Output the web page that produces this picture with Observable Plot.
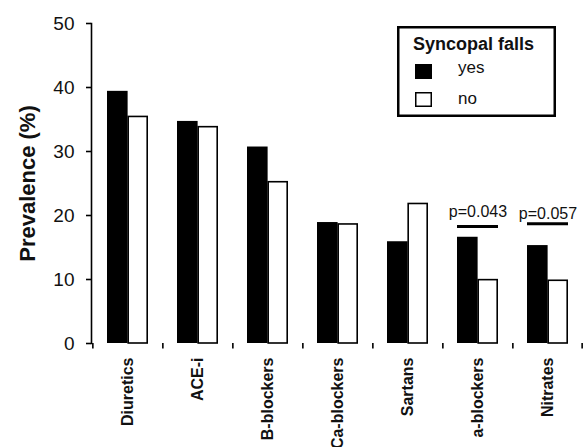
<!DOCTYPE html>
<html><head><meta charset="utf-8">
<script src="https://cdn.jsdelivr.net/npm/d3@7"></script>
<script src="https://cdn.jsdelivr.net/npm/@observablehq/plot@0.6"></script>
<style>
body{margin:0;background:#fff;font-family:"Liberation Sans",Arial,sans-serif;}
#wrap{position:relative;width:583px;height:447px;overflow:hidden;}
#legend{position:absolute;left:397px;top:26px;}
</style></head>
<body><div id="wrap"></div>
<script>
const categories = ["Diuretics","ACE-i","B-blockers","Ca-blockers","Sartans","a-blockers","Nitrates"];
const yesValues = [39.4, 34.7, 30.7, 18.9, 15.9, 16.6, 15.3];
const noValues  = [35.4, 33.8, 25.2, 18.6, 21.8, 9.9, 9.8];
const yTicks = [0,10,20,30,40,50];
const pCats = ["a-blockers","Nitrates"];
const pLabels = ["p=0.043","p=0.057"];
const pLineY = [18.3, 18.7];
const pTextY = [19.8, 19.4];
const seriesNames = ["yes","no"];
const legendTitle = "Syncopal falls";

const yesData = categories.map((c,i)=>({c, v: yesValues[i]}));
const noData = categories.map((c,i)=>({c, v: noValues[i]}));
const pData = pCats.map((c,i)=>({c, label: pLabels[i], ly: pLineY[i], ty: pTextY[i]}));

const W = 583, H = 447, ML = 91, MR = 0, MT = 23, MB = 104;
const pi = 0.42, po = 0.21;
const step = (W - ML - MR) / (categories.length - pi + 2*po);
const bw = step * (1 - pi);

const chart = Plot.plot({
  width: W, height: H,
  marginLeft: ML, marginRight: MR, marginTop: MT, marginBottom: MB,
  style: {fontFamily: '"Liberation Sans", Arial, sans-serif', color: "#111", background: "#fff", overflow: "visible"},
  x: {domain: categories, paddingInner: pi, paddingOuter: po, label: null},
  y: {domain: [0, 50], label: null},
  marks: [
    Plot.barY(yesData, {x: "c", y: "v", fill: "#000", insetRight: bw/2}),
    Plot.barY(noData, {x: "c", y: "v", fill: "#fff", stroke: "#000", strokeWidth: 1.6, insetLeft: bw/2 + 0.8, insetRight: 0.8}),
    Plot.ruleY([0], {stroke: "#000", strokeWidth: 1.6, x1: null}),
    Plot.frame({anchor: "left", stroke: "#000", strokeWidth: 1.6}),
    Plot.ruleX(categories, {x: d=>d, y1: 0, y2: -0.85, dx: -step/2, stroke: "#000", strokeWidth: 1.6}),
    Plot.ruleX(categories.slice(-1), {x: d=>d, y1: 0, y2: -0.85, dx: step/2 - 1, stroke: "#000", strokeWidth: 1.6}),
    Plot.axisY({ticks: yTicks, tickSize: 5, tickPadding: 12, fontSize: 19, tickFormat: d=>d, stroke: "#000", strokeWidth: 1.6}),
    Plot.axisX({tickSize: 0, tickPadding: 14, tickRotate: -90, fontSize: 16, fontWeight: "bold", label: null}),
    Plot.tickY(pData, {x: "c", y: "ty", stroke: "none"}),
    Plot.tickY(pData, {x: "c", y: "ly", stroke: "#000", strokeWidth: 3}),
    Plot.text(pData, {x: "c", y: "ty", text: "label", lineAnchor: "bottom", fontSize: 16, fill: "#111"}),
    Plot.text(["Prevalence (%)"], {frameAnchor: "left", textAnchor: "middle", dx: -64, rotate: -90, fontSize: 22, fontWeight: "bold", fill: "#111"})
  ]
});
document.getElementById("wrap").appendChild(chart);

// legend
const lg = d3.select("#wrap").append("svg").attr("id","legend").attr("width",160).attr("height",92)
  .style("font-family",'"Liberation Sans", Arial, sans-serif');
lg.append("rect").attr("x",1.25).attr("y",1.25).attr("width",156.5).attr("height",88.5).attr("fill","#fff").attr("stroke","#000").attr("stroke-width",2.5);
lg.append("text").attr("x",16).attr("y",24).attr("font-size",18).attr("font-weight","bold").attr("fill","#111").text(legendTitle);
lg.append("rect").attr("x",18).attr("y",38).attr("width",17).attr("height",15).attr("fill","#000");
lg.append("rect").attr("x",18.75).attr("y",66.75).attr("width",15.5).attr("height",13.5).attr("fill","#fff").attr("stroke","#000").attr("stroke-width",1.5);
lg.append("text").attr("x",61).attr("y",47).attr("font-size",17).attr("fill","#111").text(seriesNames[0]);
lg.append("text").attr("x",61).attr("y",78).attr("font-size",17).attr("fill","#111").text(seriesNames[1]);
</script></body></html>
